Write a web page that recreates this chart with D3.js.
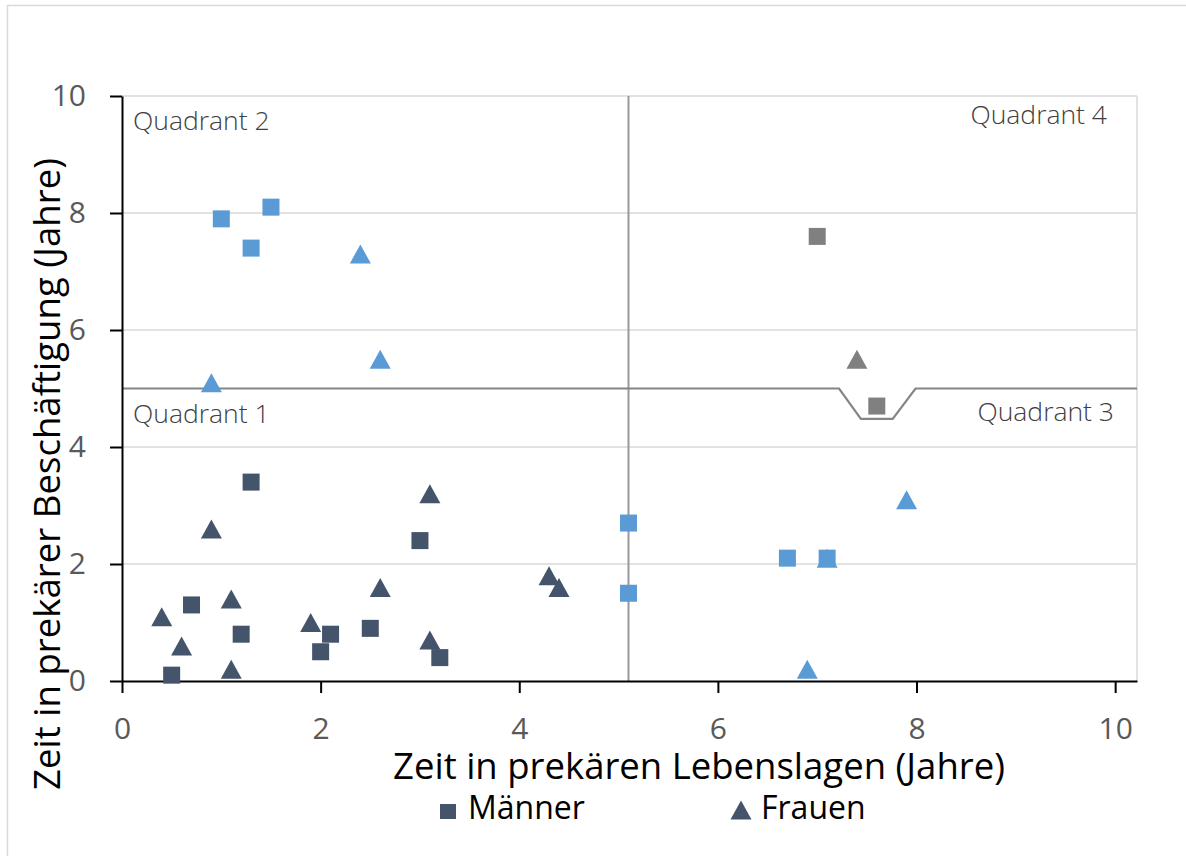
<!DOCTYPE html>
<html>
<head>
<meta charset="utf-8">
<script src="https://cdn.jsdelivr.net/npm/d3@7"></script>
<style>
  body { margin: 0; background: #fff; }
  svg text { font-family: "Open Sans", "Noto Sans", sans-serif; }
</style>
</head>
<body>
<div id="chartplace"></div>
<script>
// Daten (Jahre): [Lebenslagen, Beschäftigung]
var maennerDunkel = [[1.3,3.4],[3.0,2.4],[0.7,1.3],[1.2,0.8],[2.1,0.8],[2.0,0.5],[2.5,0.9],[3.2,0.4],[0.5,0.1]];
var frauenDunkel  = [[3.1,3.2],[0.9,2.6],[0.4,1.1],[1.1,1.4],[0.6,0.6],[1.1,0.2],[1.9,1.0],[3.1,0.7],[2.6,1.6],[4.3,1.8],[4.4,1.6]];
var maennerBlau   = [[1.0,7.9],[1.3,7.4],[1.5,8.1],[5.1,2.7],[5.1,1.5],[6.7,2.1],[7.1,2.1]];
var frauenBlau    = [[2.4,7.3],[2.6,5.5],[0.9,5.1],[7.1,2.1],[7.9,3.1],[6.9,0.2]];
var maennerGrau   = [[7.0,7.6],[7.6,4.7]];
var frauenGrau    = [[7.4,5.5]];

var xTicks = [0, 2, 4, 6, 8, 10];
var yTicks = [0, 2, 4, 6, 8, 10];
var gridWerte = [2, 4, 6, 8, 10];

// Quadrantengrenzen
var xGrenze = 5.1;
var yGrenze = [[0,5],[7.22,5],[7.44,4.48],[7.76,4.48],[7.99,5],[10.22,5]];

var legende = ["Männer", "Frauen"];
var quadranten = ["Quadrant 1", "Quadrant 2", "Quadrant 3", "Quadrant 4"];

var dunkel = "#44546A", blau = "#5B9BD5", grau = "#808080";

var width = 1186, height = 856;
var svg = d3.select("#chartplace").append("svg")
  .attr("width", width).attr("height", height);

svg.append("rect").attr("width", width).attr("height", height).attr("fill", "#fff");
// Rahmen
svg.append("rect")
  .attr("x", 7.5).attr("y", 5.5).attr("width", 1190).attr("height", 900)
  .attr("fill", "none").attr("stroke", "#d9d9d9").attr("stroke-width", 1.5);

var x = d3.scaleLinear().domain([0, 10.22]).range([122, 1137]);
var y = d3.scaleLinear().domain([0, 10]).range([681, 96]);

// Gitternetz
svg.append("g").selectAll("line")
  .data(gridWerte).enter().append("line")
  .attr("x1", x(0)).attr("x2", x(10.22))
  .attr("y1", function(d){ return y(d); })
  .attr("y2", function(d){ return y(d); })
  .attr("stroke", "#d9d9d9").attr("stroke-width", 1.5);
svg.append("line")
  .attr("x1", x(10.22)).attr("x2", x(10.22))
  .attr("y1", y(10)).attr("y2", y(0))
  .attr("stroke", "#d9d9d9").attr("stroke-width", 1.5);

// Quadrantenlinien
svg.append("line")
  .attr("x1", x(xGrenze)).attr("x2", x(xGrenze))
  .attr("y1", y(10)).attr("y2", y(0))
  .attr("stroke", "#999").attr("stroke-width", 2);
var linie = d3.line()
  .x(function(d){ return x(d[0]); })
  .y(function(d){ return y(d[1]); });
svg.append("path")
  .attr("d", linie(yGrenze))
  .attr("fill", "none").attr("stroke", "#858585").attr("stroke-width", 2.2);

// Achsen
var yAxis = svg.append("g")
  .attr("transform", "translate(" + x(0) + ",0)")
  .call(d3.axisLeft(y).tickValues(yTicks).tickSize(12).tickSizeOuter(0).tickPadding(24));
var xAxis = svg.append("g")
  .attr("transform", "translate(0," + y(0) + ")")
  .call(d3.axisBottom(x).tickValues(xTicks).tickSize(12).tickSizeOuter(0).tickPadding(25));
[xAxis, yAxis].forEach(function(a){
  a.select(".domain").attr("stroke", "#000").attr("stroke-width", 2);
  a.selectAll(".tick line").attr("stroke", "#000").attr("stroke-width", 2);
  a.selectAll(".tick text")
    .attr("fill", "#595959")
    .style("font-size", "30px")
    .style("font-family", "'Open Sans', sans-serif");
});

// Markierungen
var dreieck = "M0,-9.5L10.5,9.5L-10.5,9.5Z";
function dreiecke(daten, farbe){
  svg.append("g").selectAll("path")
    .data(daten).enter().append("path")
    .attr("d", dreieck)
    .attr("transform", function(d){ return "translate(" + x(d[0]) + "," + y(d[1]) + ")"; })
    .attr("fill", farbe);
}
function quadrate(daten, farbe){
  svg.append("g").selectAll("rect")
    .data(daten).enter().append("rect")
    .attr("x", function(d){ return x(d[0]) - 8.5; })
    .attr("y", function(d){ return y(d[1]) - 8.5; })
    .attr("width", 17).attr("height", 17)
    .attr("fill", farbe);
}
dreiecke(frauenDunkel, dunkel);
dreiecke(frauenBlau, blau);
dreiecke(frauenGrau, grau);
quadrate(maennerDunkel, dunkel);
quadrate(maennerBlau, blau);
quadrate(maennerGrau, grau);

// Quadranten-Beschriftung
var qPos = [
  {x: 133, y: 423, a: "start"},
  {x: 133, y: 130, a: "start"},
  {x: 1114, y: 421, a: "end"},
  {x: 1107, y: 124, a: "end"}
];
svg.append("g").selectAll("text")
  .data(quadranten).enter().append("text")
  .attr("x", function(d, i){ return qPos[i].x; })
  .attr("y", function(d, i){ return qPos[i].y; })
  .attr("text-anchor", function(d, i){ return qPos[i].a; })
  .style("font-size", "26.5px").style("font-weight", 300)
  .attr("fill", "#404040")
  .text(function(d){ return d; });

// Achsentitel
function passend(sel, breite){
  var n = sel.node();
  var fs = parseFloat(sel.style("font-size"));
  sel.style("font-size", (fs * breite / n.getComputedTextLength()) + "px");
}
var xTitel = svg.append("text")
  .attr("x", 699).attr("y", 779)
  .attr("text-anchor", "middle")
  .style("font-size", "36px").attr("fill", "#000")
  .text("Zeit in prekären Lebenslagen (Jahre)");
passend(xTitel, 612);
var yTitel = svg.append("text")
  .attr("transform", "translate(60,474) rotate(-90)")
  .attr("text-anchor", "middle")
  .style("font-size", "36px").attr("fill", "#000")
  .text("Zeit in prekärer Beschäftigung (Jahre)");
passend(yTitel, 632);

// Legende
var leg = svg.append("g");
leg.append("rect").attr("x", 440).attr("y", 804).attr("width", 16).attr("height", 15).attr("fill", dunkel);
leg.append("text").attr("x", 468).attr("y", 819).style("font-size", "32px").attr("fill", "#000").text(legende[0]);
leg.append("path").attr("d", dreieck).attr("transform", "translate(741,810)").attr("fill", dunkel);
leg.append("text").attr("x", 761).attr("y", 819).style("font-size", "32px").attr("fill", "#000").text(legende[1]);
</script>
</body>
</html>
